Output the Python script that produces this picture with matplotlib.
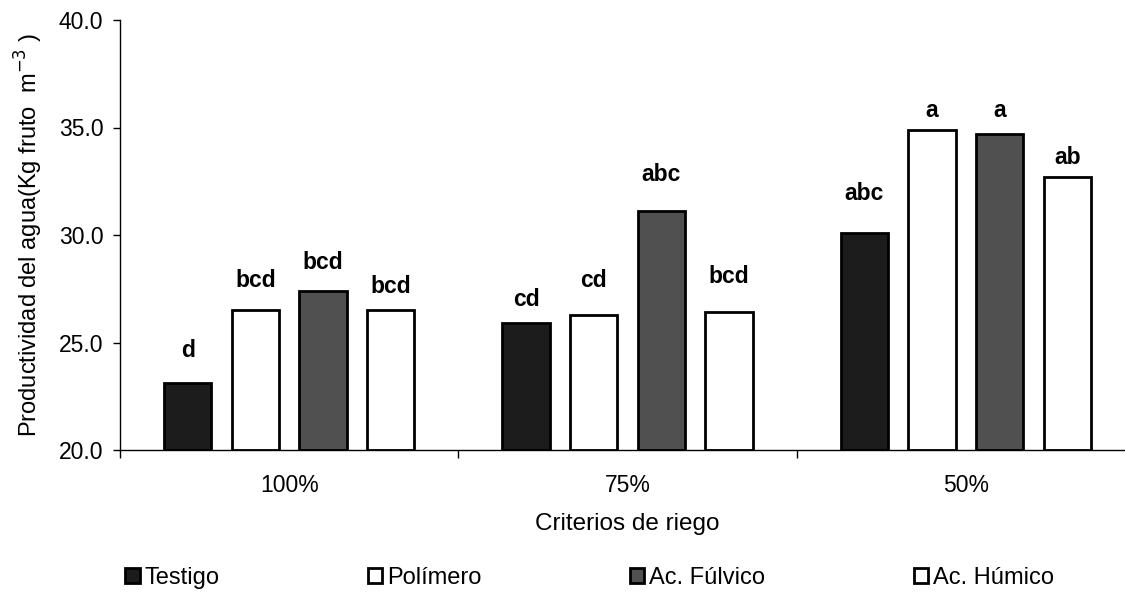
import matplotlib
matplotlib.use("Agg")
import matplotlib.pyplot as plt
from matplotlib.ticker import FormatStrFormatter
import numpy as np

# irrigation criteria (groups) and treatments (series)
criterios = ["100%", "75%", "50%"]
tratamientos = ["Testigo", "Polímero", "Ac. Fúlvico", "Ac. Húmico"]

testigo = [23.1, 25.9, 30.1]
polimero = [26.5, 26.3, 34.9]
fulvico = [27.4, 31.1, 34.7]
humico = [26.5, 26.4, 32.7]

# significance letters and the height where each one sits
letras_testigo = ["d", "cd", "abc"]
letras_polimero = ["bcd", "cd", "a"]
letras_fulvico = ["bcd", "abc", "a"]
letras_humico = ["bcd", "bcd", "ab"]

alto_testigo = [24.65, 27.0, 31.95]
alto_polimero = [27.9, 27.9, 35.8]
alto_fulvico = [28.7, 32.8, 35.8]
alto_humico = [27.6, 28.05, 33.6]

plt.rcParams["font.family"] = ["Liberation Sans", "DejaVu Sans"]

series = [testigo, polimero, fulvico, humico]
letras = [letras_testigo, letras_polimero, letras_fulvico, letras_humico]
altos = [alto_testigo, alto_polimero, alto_fulvico, alto_humico]
colores = ["#1c1c1c", "white", "#505050", "white"]

fig = plt.figure(figsize=(11.25, 6.02), dpi=100)
ax = fig.add_axes([120 / 1125, 1 - 450 / 602, 1015 / 1125, 430 / 602])

x = np.arange(len(criterios)) + 0.5
offsets = [-0.3, -0.1, 0.1, 0.3]
width = 0.14
handles = []
for k in range(4):
    vals = np.array(series[k])
    b = ax.bar(x + offsets[k], vals - 20, width, bottom=20, color=colores[k],
               edgecolor="black", linewidth=2.0, label=tratamientos[k])
    handles.append(b)
    for i in range(len(criterios)):
        ax.text(x[i] + offsets[k], altos[k][i], letras[k][i], ha="center", va="center",
                fontsize=16.5, fontweight="bold")

ax.set_ylim(20, 40)
ax.set_xlim(0, 3)
ax.set_yticks([20, 25, 30, 35, 40])
ax.yaxis.set_major_formatter(FormatStrFormatter("%.1f"))
ax.set_xticks([0, 1, 2, 3])
ax.set_xticklabels([])
ax.set_xticks(x, minor=True)
ax.set_xticklabels(criterios, minor=True)
ax.tick_params(axis="x", which="minor", length=0, pad=17, labelsize=16.5)
ax.tick_params(axis="x", which="major", length=6, width=1, direction="out")
ax.tick_params(axis="y", length=5, width=1, direction="out", labelsize=16.5, pad=7)

for s in ["top", "right"]:
    ax.spines[s].set_visible(False)
for s in ["left", "bottom"]:
    ax.spines[s].set_linewidth(1.0)

ax.set_xlabel("Criterios de riego", fontsize=17.5, labelpad=12)
ax.set_ylabel("Productividad del agua(Kg fruto  m$^{-3}$ )", fontsize=17, labelpad=10)

leg = fig.legend(handles=handles, labels=tratamientos, loc="center left",
                 bbox_to_anchor=(116 / 1125, 1 - 578 / 602), ncol=4, frameon=False,
                 handlelength=0.6, handleheight=0.6, handletextpad=0.2,
                 columnspacing=6.3, borderaxespad=0,
                 prop={"size": 17})

fig.savefig("out.png", dpi=100)
